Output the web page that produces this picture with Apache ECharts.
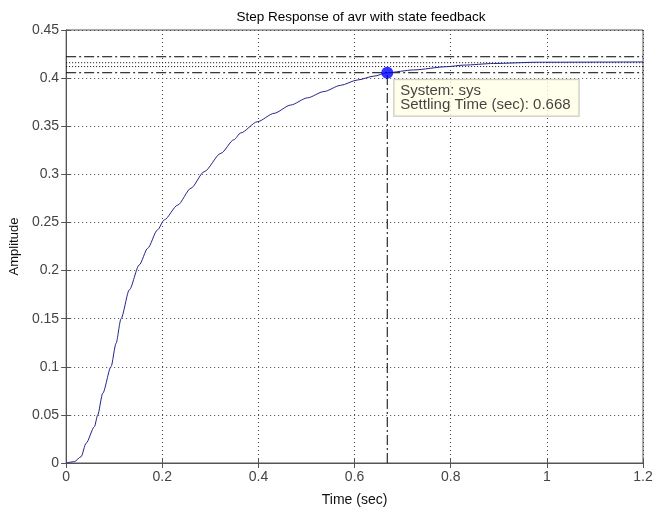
<!DOCTYPE html>
<html><head><meta charset="utf-8">
<script src="https://cdn.jsdelivr.net/npm/echarts@6/dist/echarts.min.js"></script>
<style>html,body{margin:0;padding:0;background:#fff}#c{width:657px;height:512px}</style>
</head><body><div id="c"></div>
<script>
var timeSec = [0,0.017,0.031,0.0415,0.0588,0.0657,0.0761,0.0934,0.1038,0.1142,0.1315,0.152,0.1696,0.19,0.204,0.232,0.2595,0.287,0.322,0.349,0.363,0.398,0.4325,0.467,0.502,0.536,0.571,0.6056,0.64,0.668,0.723,0.792,0.827,0.889,0.979,1.2];
var amplitude = [0,0.0014,0.0065,0.0205,0.0377,0.0499,0.0724,0.1001,0.1244,0.15,0.18,0.2058,0.2231,0.2422,0.2526,0.268,0.2855,0.3027,0.3219,0.336,0.343,0.3547,0.3634,0.372,0.3795,0.386,0.3925,0.398,0.402,0.4056,0.4085,0.4119,0.4135,0.4152,0.4165,0.4168];
var settleBandOuter = [0.4222, 0.4056];
var settleBandInner = [0.416, 0.412];
var settlingPoint = [0.668, 0.4056];
var xTicks = ['0','0.2','0.4','0.6','0.8','1','1.2'];
var yTicks = ['0','0.05','0.1','0.15','0.2','0.25','0.3','0.35','0.4','0.45'];

var chart = echarts.init(document.getElementById('c'));
var font = 'Liberation Sans, Arial, sans-serif';
var dashDot = [10,3,2,3];
function hline(v, type){
  return {type:'line', data:[[0,v],[1.2,v]], symbol:'none', silent:true,
    lineStyle:{color:'#000', width:1, type:type}, z:3, animation:false};
}
var series = [];
settleBandOuter.forEach(function(v){ series.push(hline(v, dashDot)); });
settleBandInner.forEach(function(v){ series.push(hline(v, [1,2])); });
series.push({type:'line', data:[[settlingPoint[0],0],[settlingPoint[0],settlingPoint[1]]], symbol:'none', silent:true,
  lineStyle:{color:'#000', width:1, type:dashDot}, z:3, animation:false});
series.push({type:'line', data:timeSec.map(function(t,i){return [t, amplitude[i]];}), symbol:'none',
  smooth:0.25, smoothMonotone:'x',
  lineStyle:{color:'#22228a', width:1}, z:4, animation:false});
series.push({type:'scatter', data:[settlingPoint], symbolSize:12, itemStyle:{color:'#0000ff'}, z:6, animation:false,
  label:{show:true, position:[13,13], formatter:'System: sys\nSettling Time (sec): 0.668',
    backgroundColor:'#ffffe6', borderColor:'#b8b8a8', borderWidth:1, padding:[4,8,4,6],
    fontFamily:font, fontSize:15, lineHeight:14, color:'#111'}});

chart.setOption({
  animation:false,
  title:{text:'Step Response of avr with state feedback', left:356, textAlign:'center', top:5,
    textStyle:{fontFamily:font, fontSize:13.5, fontWeight:'normal', color:'#000'}},
  grid:{left:65, right:14, top:30, bottom:49, show:true, borderColor:'#555', borderWidth:1, backgroundColor:'#fff'},
  xAxis:[{type:'value', min:0, max:1.2, interval:0.2, position:'bottom',
    name:'Time (sec)', nameLocation:'middle', nameGap:30,
    nameTextStyle:{fontFamily:font, fontSize:14, color:'#111'},
    axisLine:{show:true, lineStyle:{color:'#555'}}, axisTick:{show:true, inside:true, length:5, lineStyle:{color:'#555'}},
    axisLabel:{fontFamily:font, fontSize:14, color:'#444', margin:7, formatter:function(v,i){return xTicks[i];}},
    splitLine:{show:true, lineStyle:{color:'#444', type:[1,3], width:1}}},
    {type:'value', min:0, max:1.2, interval:0.2, position:'top', axisLine:{show:true, lineStyle:{color:'#555'}},
    axisTick:{show:true, inside:true, length:5, lineStyle:{color:'#555'}}, axisLabel:{show:false}, splitLine:{show:false}}],
  yAxis:[{type:'value', min:0, max:0.45, interval:0.05, position:'left',
    name:'Amplitude', nameLocation:'middle', nameGap:40, nameRotate:90,
    nameTextStyle:{fontFamily:font, fontSize:13, color:'#111'},
    axisLine:{show:true, lineStyle:{color:'#555'}}, axisTick:{show:true, inside:true, length:5, lineStyle:{color:'#555'}},
    axisLabel:{fontFamily:font, fontSize:14, color:'#444', margin:7, formatter:function(v,i){return yTicks[i];}},
    splitLine:{show:true, lineStyle:{color:'#444', type:[1,3], width:1}}},
    {type:'value', min:0, max:0.45, interval:0.05, position:'right', axisLine:{show:true, lineStyle:{color:'#555'}},
    axisTick:{show:true, inside:true, length:5, lineStyle:{color:'#555'}}, axisLabel:{show:false}, splitLine:{show:false}}],
  series:series
});
</script></body></html>
